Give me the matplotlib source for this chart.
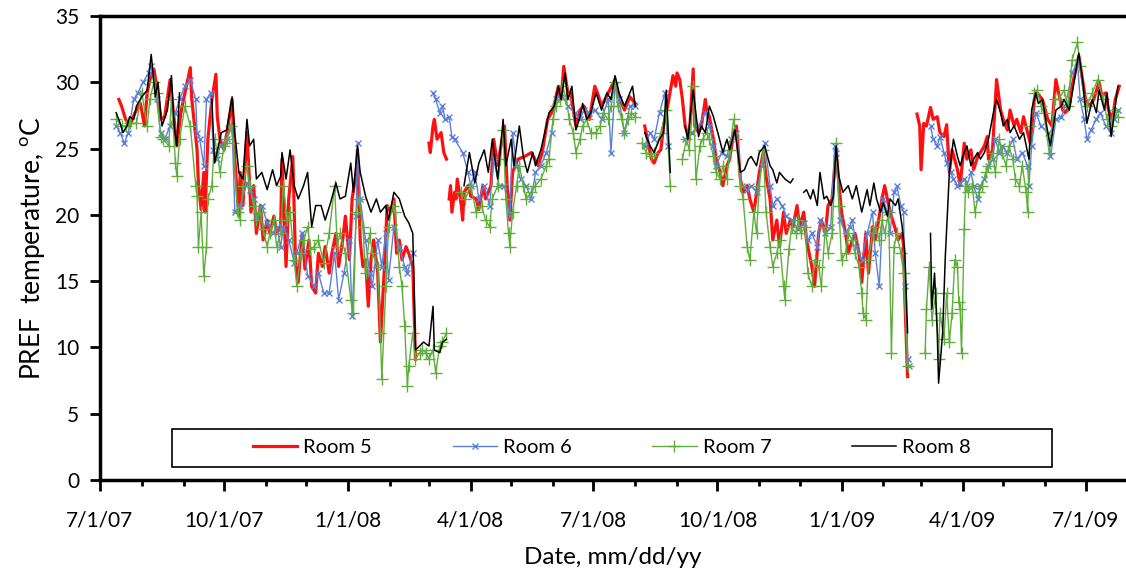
import numpy as np
import matplotlib
matplotlib.use('Agg')
import matplotlib.pyplot as plt
import matplotlib.dates as mdates
from matplotlib.patches import Rectangle
from matplotlib.ticker import FuncFormatter

plt.rcParams['font.family'] = ['Lato', 'DejaVu Sans']

nan = np.nan
start = np.datetime64('2007-07-01')

# (days since 7/1/07, PREF temperature in C), nan = no data
room5 = [(14,28.7),(16,28.2),(19,27.2),(22,26.7),(26,27.7),(30,28.4),(33,26.7),(35,29.2),(37,30.2),(40,31.0),
    (42,29.7),(45,27.2),(48,27.4),(52,30.2),(56,26.2),(57,25.2),(60,27.7),(63,29.2),(67,31.1),(68,28.8),
    (72,24.9),(73,22.4),(75,20.4),(77,23.2),(78,20.2),(80,25.7),(83,28.7),(86,30.6),(87,27.4),(89,25.7),
    (92,24.9),(95,26.7),(98,28.7),(100,24.2),(103,19.9),(104,23.2),(106,20.7),(109,26.2),(112,20.2),(114,22.2),
    (116,18.6),(119,20.7),(121,18.1),(124,19.6),(126,18.6),(129,19.9),(131,18.6),(134,19.1),(135,24.2),(138,16.1),
    (140,21.2),(143,24.4),(145,16.6),(147,14.9),(150,18.6),(152,15.9),(155,18.1),(157,14.6),(160,14.1),(162,17.1),
    (165,16.1),(167,17.6),(170,15.6),(172,17.1),(175,18.6),(177,16.1),(180,18.1),(182,19.9),(185,16.6),(187,21.2),
    (190,23.2),(191,24.9),(193,18.1),(195,16.1),(197,16.6),(199,13.1),(201,16.6),(203,18.1),(206,15.6),(208,10.4),
    (211,16.1),(213,20.7),(216,20.2),(218,21.2),(220,17.1),(222,18.1),(224,16.6),(227,17.6),(229,17.1),(232,16.1),
    (234,9.1),(239,nan),(244,25.4),(245,24.7),(247,26.7),(248,27.2),(250,25.7),(253,26.2),(255,24.7),(257,24.2),
    (258,nan),(259,21.2),(260,22.2),(261,20.2),(263,21.7),(264,21.2),(265,22.7),(268,20.7),(269,19.6),(270,21.7),
    (273,22.2),(275,21.4),(279,21.2),(281,20.4),(284,22.2),(286,21.2),(290,22.2),(292,25.7),(295,23.7),(299,26.2),
    (300,26.7),(302,22.2),(304,19.6),(306,23.2),(310,24.2),(315,24.4),(320,24.7),(325,23.7),(328,24.7),(332,27.2),
    (336,27.9),(340,29.7),(342,28.7),(344,31.2),(347,29.2),(349,29.2),(353,26.7),(356,27.9),(359,28.2),(363,27.2),
    (367,29.7),(369,29.2),(372,28.2),(377,29.2),(382,30.2),(385,28.9),(389,27.9),(393,28.9),(397,28.4),(400,nan),
    (404,26.7),(406,25.7),(409,24.2),(411,23.9),(414,24.7),(416,24.9),(418,26.7),(421,28.2),(424,29.9),(425,30.5),
    (427,29.7),(428,30.7),(430,30.2),(432,28.7),(434,26.7),(437,25.7),(440,31.0),(441,26.7),(444,26.2),(446,26.7),
    (449,28.7),(450,27.9),(452,27.4),(455,25.7),(457,24.2),(460,23.2),(462,22.2),(465,23.7),(467,24.2),(470,26.2),
    (472,26.7),(475,22.7),(477,21.7),(480,22.2),(482,21.2),(485,20.2),(487,21.7),(489,23.2),(492,24.7),(494,22.9),
    (497,21.2),(499,18.1),(502,19.6),(504,17.6),(507,20.2),(509,18.6),(512,19.6),(514,19.1),(517,20.7),(519,19.1),
    (522,20.2),(524,18.1),(527,16.6),(528,16.1),(530,14.6),(533,18.6),(535,19.6),(538,18.6),(540,20.7),(543,21.2),
    (546,24.9),(548,22.4),(550,20.2),(553,18.6),(555,17.1),(558,18.1),(560,18.6),(563,17.1),(565,14.9),(568,18.6),
    (570,15.6),(573,19.1),(575,18.1),(578,19.9),(580,21.2),(582,22.2),(585,20.7),(587,19.9),(590,18.9),(592,18.1),
    (595,18.6),(596,17.6),(597,13.6),(599,7.8),(602,nan),(606,27.6),(608,26.7),(609,23.4),(611,26.9),(613,26.7),
    (616,28.1),(618,27.2),(621,27.4),(623,26.2),(626,25.9),(628,26.8),(630,23.2),(632,24.9),(636,23.4),(638,22.2),
    (641,25.4),(643,24.2),(646,24.9),(648,23.4),(651,24.4),(653,24.7),(656,25.2),(658,25.9),(659,24.2),(662,24.9),
    (665,30.2),(668,27.9),(670,27.2),(673,26.4),(675,27.9),(678,26.7),(680,27.2),(683,26.2),(685,27.4),(688,26.2),
    (690,25.4),(693,28.7),(695,29.2),(699,28.7),(703,27.2),(706,26.7),(709,30.2),(711,29.2),(714,27.9),(716,27.7),
    (719,28.2),(721,29.7),(726,32.0),(729,30.0),(731,28.7),(734,28.2),(737,28.7),(741,30.0),(743,29.0),(746,29.2),
    (748,27.9),(751,27.2),(753,28.7),(756,29.7)]

room6 = [(12,26.7),(15,26.2),(18,25.4),(21,26.2),(25,28.7),(28,29.2),(32,30.0),(36,30.7),(38,31.2),(42,28.7),
    (45,26.2),(48,25.7),(52,26.7),(56,27.7),(59,28.7),(63,29.7),(67,30.2),(71,28.7),(72,26.2),(74,25.7),
    (77,23.7),(79,28.7),(82,29.2),(84,24.9),(87,24.2),(89,25.2),(94,25.7),(98,26.7),(100,20.2),(104,20.7),
    (109,22.4),(111,21.9),(114,21.2),(116,19.9),(120,20.7),(124,19.4),(128,18.6),(131,19.1),(134,17.6),(136,19.1),
    (140,18.1),(144,16.4),(146,17.1),(150,18.6),(154,15.4),(159,14.6),(162,15.6),(166,14.1),(170,14.1),(174,17.1),
    (177,13.6),(181,15.6),(185,18.1),(187,12.4),(190,19.9),(191,25.4),(193,21.2),(197,18.1),(200,15.6),(202,14.6),
    (206,18.1),(209,16.1),(212,18.6),(214,15.1),(218,19.1),(222,17.6),(226,16.1),(228,15.6),(232,17.1),(240,nan),
    (247,29.2),(249,28.7),(252,27.7),(254,28.2),(256,27.2),(259,27.4),(261,25.9),(263,25.7),(269,24.7),(273,23.2),
    (275,22.2),(278,23.2),(281,21.2),(285,22.2),(289,20.7),(292,24.2),(296,22.2),(300,22.2),(304,19.9),(306,26.2),
    (309,23.7),(312,22.7),(316,22.2),(320,21.2),(323,23.2),(327,23.7),(331,24.7),(335,26.2),(338,28.7),(342,29.2),
    (347,28.2),(352,27.7),(356,27.2),(359,27.9),(363,27.7),(367,27.9),(372,27.2),(377,28.7),(379,24.7),(382,29.7),
    (385,28.7),(389,26.2),(393,28.2),(397,28.2),(400,nan),(404,25.2),(408,26.2),(411,25.7),(415,27.7),(419,29.2),
    (421,25.2),(428,nan),(434,25.7),(439,26.2),(444,26.7),(449,27.7),(452,26.7),(455,25.2),(457,23.7),(461,24.7),
    (465,24.4),(468,25.7),(472,26.2),(476,22.2),(480,21.9),(483,22.2),(487,21.7),(491,23.7),(493,25.4),(497,22.2),
    (499,20.7),(502,21.2),(506,20.7),(509,19.9),(513,19.6),(518,18.9),(522,19.4),(525,18.1),(528,18.6),(532,17.6),
    (534,19.6),(538,18.6),(542,19.1),(545,25.2),(546,24.7),(549,19.6),(553,18.6),(556,19.1),(558,19.6),(561,17.6),
    (565,16.6),(569,18.6),(573,20.2),(575,17.1),(578,14.6),(581,21.2),(584,20.2),(586,18.6),(589,21.7),(591,22.2),
    (594,20.7),(596,20.2),(597,14.6),(599,9.1),(600,8.6),(608,nan),(616,26.7),(618,25.7),(621,25.2),(623,25.9),
    (626,24.7),(628,23.9),(631,23.2),(633,22.7),(636,22.2),(638,22.4),(641,22.7),(643,22.2),(646,23.2),(648,22.2),
    (651,21.2),(653,22.2),(656,22.7),(659,23.7),(662,24.2),(664,25.7),(667,24.7),(669,25.2),(673,24.7),(677,25.7),
    (680,24.2),(684,24.7),(688,23.7),(689,22.2),(691,25.2),(694,27.7),(698,26.7),(703,26.2),(705,24.4),(709,27.2),
    (713,27.4),(716,28.2),(721,30.7),(725,31.5),(727,28.7),(730,27.2),(732,25.7),(735,26.4),(739,27.2),(742,27.7),
    (746,26.7),(750,26.2),(752,27.2),(755,27.9)]

room7 = [(12,27.2),(16,26.7),(19,26.7),(22,26.9),(27,26.9),(31,29.2),(35,26.7),(37,28.7),(40,30.0),(42,29.2),
    (45,25.9),(47,25.7),(51,25.2),(53,28.7),(56,23.9),(57,22.9),(59,25.7),(63,28.2),(67,26.7),(71,22.2),
    (72,21.4),(73,17.6),(75,20.2),(77,15.4),(79,17.6),(80,21.2),(83,22.2),(85,25.7),(87,24.7),(89,23.2),
    (92,25.2),(94,25.7),(97,26.7),(99,25.4),(102,20.2),(104,19.6),(106,22.2),(109,23.7),(111,22.2),(114,20.7),
    (116,19.6),(119,20.2),(121,18.9),(124,17.6),(126,18.6),(129,19.6),(131,17.6),(134,18.6),(136,22.2),(139,19.6),
    (141,20.2),(144,16.6),(146,14.6),(149,17.1),(151,18.1),(154,19.1),(156,17.4),(159,17.6),(162,18.1),(166,16.4),
    (170,18.6),(174,22.2),(176,17.6),(178,18.6),(182,17.1),(186,13.6),(188,12.6),(190,20.2),(192,21.2),(195,19.1),
    (197,15.6),(200,18.6),(202,17.1),(206,16.1),(208,11.1),(209,7.6),(212,14.6),(214,19.1),(217,20.7),(219,20.2),
    (222,16.1),(224,14.6),(226,11.6),(228,7.1),(229,8.6),(232,11.1),(234,9.1),(237,9.6),(239,9.8),(242,9.6),
    (244,9.1),(247,9.8),(249,8.1),(252,10.1),(254,10.4),(257,11.1),(262,nan),(268,21.7),(271,21.2),(275,22.2),
    (279,20.2),(283,20.7),(286,19.6),(289,19.1),(291,21.2),(295,22.2),(297,24.2),(299,26.4),(301,21.2),(303,18.6),
    (304,17.6),(306,20.2),(309,22.2),(311,23.7),(314,22.2),(316,21.2),(320,21.7),(323,22.2),(327,22.7),(331,23.7),
    (333,24.2),(336,27.2),(338,28.2),(341,28.7),(343,29.7),(346,28.7),(348,27.2),(351,26.2),(353,24.7),(356,25.7),
    (358,26.7),(361,27.2),(364,26.2),(368,26.2),(371,26.7),(373,27.7),(377,27.2),(379,28.2),(382,30.0),(384,28.2),
    (387,27.2),(389,26.2),(392,27.2),(394,27.7),(397,27.4),(399,nan),(402,25.4),(405,24.7),(409,24.4),(411,24.7),
    (416,26.2),(420,27.9),(423,22.2),(428,nan),(432,24.2),(435,25.7),(437,24.9),(440,29.7),(442,22.7),(445,25.2),
    (447,25.7),(450,26.2),(452,25.7),(455,24.4),(457,23.2),(460,22.7),(462,23.7),(465,22.7),(467,24.9),(470,27.2),
    (472,25.7),(475,22.2),(477,21.2),(480,17.6),(482,16.6),(485,20.2),(487,18.6),(489,22.2),(492,24.9),(494,20.2),
    (497,17.6),(499,16.1),(502,17.1),(504,18.1),(507,14.6),(508,13.6),(511,17.4),(513,19.1),(516,18.6),(518,19.6),
    (520,18.6),(523,19.1),(525,15.6),(528,14.6),(530,16.6),(533,16.1),(535,14.6),(538,19.1),(540,17.1),(543,18.6),
    (546,25.4),(548,20.7),(550,16.6),(553,17.1),(555,18.6),(558,18.1),(560,17.1),(563,16.1),(565,14.1),(566,12.6),
    (568,12.1),(570,16.6),(573,18.6),(575,19.1),(578,18.1),(580,19.6),(582,18.6),(585,20.2),(587,9.6),(589,17.6),
    (591,18.6),(594,17.1),(596,15.6),(599,8.6),(605,nan),(612,9.6),(613,12.9),(615,16.1),(617,12.1),(620,14.1),
    (622,9.1),(623,12.6),(626,10.6),(628,14.1),(630,10.4),(632,12.6),(634,16.6),(636,16.1),(637,13.4),(638,12.9),
    (639,9.6),(641,18.9),(642,22.2),(644,21.7),(647,22.2),(649,20.2),(652,21.7),(654,22.2),(657,23.2),(659,23.7),
    (662,24.7),(664,23.2),(667,25.7),(669,24.7),(672,23.7),(674,25.2),(677,24.2),(679,22.7),(682,22.2),(684,23.7),
    (687,21.7),(688,20.2),(690,26.7),(693,29.2),(695,29.4),(698,28.2),(700,27.7),(704,24.7),(708,28.7),(711,28.7),
    (715,29.4),(718,28.2),(721,31.7),(725,33.0),(727,31.2),(730,28.7),(732,28.2),(736,29.2),(740,30.2),(744,28.7),
    (747,27.2),(750,26.7),(752,27.9),(755,27.4)]

room8 = [(12,27.7),(15,26.9),(17,26.2),(20,26.7),(22,27.4),(25,27.2),(27,28.2),(31,28.9),(35,29.4),(38,32.1),
    (41,28.9),(43,30.0),(46,26.7),(50,27.9),(53,30.5),(55,26.7),(57,25.2),(59,29.2),(70,nan),(83,28.7),
    (85,23.9),(90,26.2),(94,26.4),(98,28.9),(100,26.2),(103,23.2),(106,22.7),(109,27.2),(111,25.2),(114,25.7),
    (116,22.7),(120,23.2),(124,21.9),(128,23.4),(131,22.2),(134,22.9),(135,24.7),(138,22.7),(141,24.9),(144,22.2),
    (147,21.2),(151,22.2),(154,23.2),(157,19.1),(160,20.7),(164,20.7),(167,19.6),(171,20.9),(175,22.4),(178,21.2),
    (182,21.4),(186,23.9),(188,21.7),(191,25.2),(193,23.2),(197,21.4),(201,20.2),(205,21.2),(208,20.2),(212,20.7),
    (214,19.6),(218,21.7),(222,21.2),(226,19.9),(229,19.4),(232,18.6),(234,9.8),(237,10.1),(240,10.4),(244,10.1),
    (247,13.1),(248,9.8),(252,9.6),(254,10.4),(257,10.6),(263,nan),(270,22.2),(274,24.7),(278,22.4),(281,23.9),
    (285,24.9),(288,23.2),(291,25.7),(295,22.7),(299,27.2),(301,23.7),(305,25.7),(307,23.7),(311,26.7),(314,24.4),
    (317,23.2),(321,24.7),(323,23.7),(327,24.9),(331,26.7),(333,27.7),(337,28.2),(340,29.7),(342,28.7),(345,30.7),
    (347,28.7),(350,29.7),(353,26.4),(356,27.4),(358,28.4),(361,27.2),(364,27.7),(368,29.2),(372,27.9),(376,29.2),
    (379,28.7),(382,30.5),(385,29.2),(389,28.2),(393,29.2),(395,29.7),(397,28.2),(400,nan),(404,26.2),(408,25.2),
    (411,24.7),(415,25.7),(418,26.2),(420,29.4),(423,23.2),(428,nan),(434,26.7),(436,25.7),(440,29.4),(444,25.9),
    (446,26.7),(449,26.2),(452,28.2),(455,27.4),(459,25.9),(462,24.7),(465,25.7),(467,24.9),(471,26.4),(475,23.2),
    (478,23.4),(481,24.2),(483,24.4),(487,23.7),(489,24.7),(493,25.2),(497,23.7),(499,23.4),(502,22.4),(504,23.2),
    (508,22.7),(512,22.4),(514,22.7),(518,nan),(522,21.7),(524,21.9),(527,21.2),(529,21.9),(532,20.7),(534,23.2),
    (537,21.2),(539,21.4),(542,20.7),(544,21.4),(546,25.2),(548,22.9),(551,21.7),(555,22.2),(558,21.2),(561,22.2),
    (565,20.2),(569,21.9),(571,20.7),(574,22.4),(576,21.2),(579,20.2),(581,20.9),(584,19.9),(586,21.2),(590,20.7),
    (592,21.2),(595,19.1),(597,17.1),(599,11.1),(608,nan),(616,18.6),(617,12.9),(619,15.6),(621,11.1),(622,7.3),
    (625,11.1),(627,16.9),(630,23.2),(633,25.7),(636,24.4),(638,23.7),(641,24.7),(643,25.2),(646,23.7),(648,24.2),
    (651,24.7),(653,24.2),(656,24.7),(659,25.7),(663,27.9),(665,28.7),(668,27.7),(670,26.7),(673,27.2),(675,26.2),
    (678,26.7),(682,25.7),(685,26.2),(689,24.2),(691,27.9),(694,29.2),(696,28.4),(699,28.7),(703,26.2),(705,25.2),
    (709,27.9),(713,28.2),(715,28.7),(719,27.9),(722,29.7),(726,32.2),(729,30.0),(732,26.9),(736,28.7),(739,27.7),
    (741,29.4),(745,27.9),(747,29.2),(750,25.9),(752,27.4),(755,29.7)]


def unpack(pairs):
    d = np.array([p[0] for p in pairs])
    t = np.array([p[1] for p in pairs], dtype=float)
    return start + d.astype('timedelta64[D]'), t


d5, t5 = unpack(room5)
d6, t6 = unpack(room6)
d7, t7 = unpack(room7)
d8, t8 = unpack(room8)

fig = plt.figure(figsize=(11.26, 5.70), dpi=100)
ax = fig.add_axes([0.0888, 0.158, 0.9112, 0.814])

ax.plot(d5, t5, color='#ff1010', lw=2.3, label='Room 5')
ax.plot(d6, t6, color='#5b7fd8', lw=1.0, marker='x', ms=5, mew=1.0, label='Room 6')
ax.plot(d7, t7, color='#5fae3c', lw=1.0, marker='+', ms=8, mew=1.0, label='Room 7')
ax.plot(d8, t8, color='black', lw=1.1, label='Room 8')

ax.set_xlim(start, start + np.timedelta64(761, 'D'))
ax.set_ylim(0, 35)
ax.set_yticks(np.arange(0, 36, 5))

ax.xaxis.set_major_locator(mdates.MonthLocator(bymonth=[1, 4, 7, 10]))
ax.xaxis.set_minor_locator(mdates.MonthLocator())


def date_fmt(x, pos):
    d = mdates.num2date(x)
    return '%d/%d/%s' % (d.month, d.day, d.strftime('%y'))


ax.xaxis.set_major_formatter(FuncFormatter(date_fmt))

for side in ['left', 'bottom', 'top']:
    ax.spines[side].set_linewidth(2.5)
ax.spines['right'].set_visible(False)

ax.tick_params(axis='x', which='major', direction='out', length=8, width=2, pad=14, labelsize=15)
ax.tick_params(axis='x', which='minor', direction='out', length=4, width=2)
ax.tick_params(axis='y', direction='out', length=7, width=2, pad=8, labelsize=15)

ax.set_xlabel('Date, mm/dd/yy', fontsize=17.5, labelpad=12)
ax.set_ylabel('PREF  temperature, $^\\mathregular{o}$C', fontsize=19, labelpad=5)

# legend box
bx, by, bw, bh = 0.0705, 0.028, 0.857, 0.082
box = Rectangle((bx, by), bw, bh, transform=ax.transAxes,
                facecolor='white', edgecolor='black', lw=1.2, zorder=5)
ax.add_patch(box)
leg = ax.legend(loc='center', bbox_to_anchor=(bx + bw / 2, by + bh / 2),
                ncol=4, frameon=False, fontsize=14.5, handlelength=2.2, handletextpad=0.3,
                columnspacing=4.0, numpoints=1, borderaxespad=0)
leg.set_zorder(6)

fig.savefig('out.png', dpi=100)
